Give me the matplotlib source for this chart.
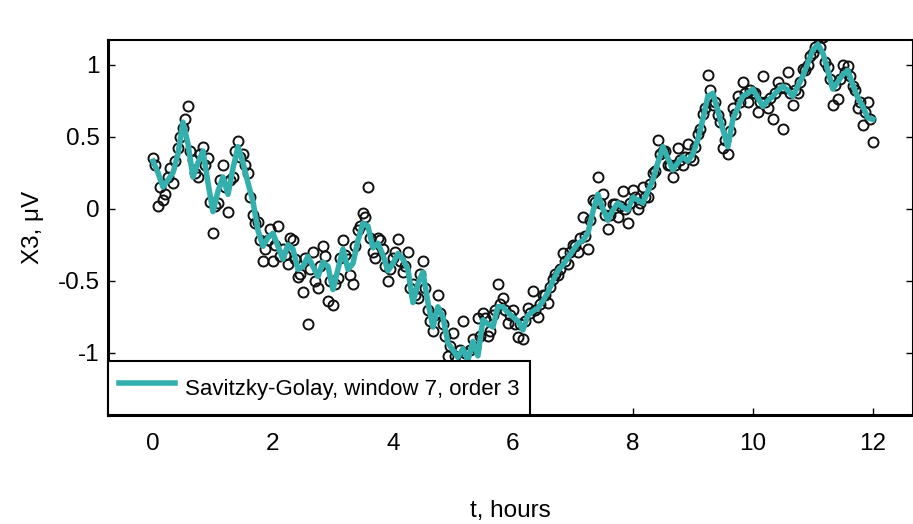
import numpy as np
import matplotlib
matplotlib.use("Agg")
import matplotlib.pyplot as plt

plt.rcParams['font.family'] = ['Liberation Sans', 'DejaVu Sans']
plt.rcParams['axes.unicode_minus'] = False

# sampling grid: 2.5-minute steps over 12 hours (two interleaved sets)
t_step_hours = 1.0 / 12.0
n_samples = 145
t = np.arange(n_samples) * t_step_hours
t_mid = (np.arange(n_samples - 1) + 0.5) * t_step_hours

raw_values = [
    0.35, 0.02, 0.06, 0.22, 0.18, 0.42, 0.56, 0.71, 0.34, 0.22,
    0.43, 0.35, -0.17, 0.04, 0.30, -0.02, 0.22, 0.47, 0.38, 0.25,
    -0.04, -0.09, -0.36, -0.22, -0.36, -0.12, -0.28, -0.38, -0.22, -0.47,
    -0.58, -0.80, -0.30, -0.55, -0.26, -0.64, -0.67, -0.48, -0.22, -0.35,
    -0.52, -0.15, -0.03, 0.15, -0.30, -0.20, -0.28, -0.50, -0.34, -0.21,
    -0.44, -0.30, -0.52, -0.62, -0.36, -0.70, -0.85, -0.60, -0.80, -1.02,
    -0.86, -1.08, -0.78, -1.12, -0.90, -0.76, -0.72, -0.88, -0.74, -0.52,
    -0.62, -0.79, -0.70, -0.89, -0.90, -0.69, -0.57, -0.75, -0.60, -0.65,
    -0.49, -0.46, -0.31, -0.38, -0.25, -0.30, -0.06, -0.28, 0.06, 0.22,
    0.10, -0.14, 0.03, -0.06, 0.12, -0.10, 0.13, 0.00, 0.15, 0.08,
    0.25, 0.48, 0.40, 0.30, 0.22, 0.42, 0.30, 0.45, 0.34, 0.52,
    0.66, 0.93, 0.72, 0.65, 0.42, 0.38, 0.70, 0.78, 0.88, 0.74,
    0.80, 0.67, 0.92, 0.70, 0.62, 0.88, 0.55, 0.95, 0.72, 0.80,
    0.97, 1.00, 1.08, 1.19, 1.19, 0.98, 0.72, 0.76, 1.00, 0.99,
    0.85, 0.70, 0.58, 0.74, 0.46,
]

raw_values_mid = [
    0.30, 0.15, 0.10, 0.28, 0.33, 0.50, 0.62, 0.40, 0.25, 0.38,
    0.30, 0.05, 0.02, 0.20, 0.15, 0.20, 0.40, 0.36, 0.30, 0.08,
    -0.10, -0.22, -0.28, -0.14, -0.25, -0.33, -0.32, -0.20, -0.35, -0.45,
    -0.34, -0.42, -0.50, -0.40, -0.33, -0.50, -0.52, -0.34, -0.32, -0.46,
    -0.26, -0.12, -0.06, -0.20, -0.34, -0.22, -0.40, -0.42, -0.30, -0.36,
    -0.40, -0.55, -0.60, -0.45, -0.55, -0.78, -0.74, -0.72, -0.88, -0.95,
    -1.02, -0.98, -1.00, -0.98, -0.96, -0.88, -0.76, -0.85, -0.70, -0.66,
    -0.70, -0.74, -0.80, -0.80, -0.78, -0.72, -0.70, -0.66, -0.60, -0.54,
    -0.45, -0.42, -0.36, -0.30, -0.26, -0.20, -0.19, -0.08, 0.05, 0.04,
    -0.04, -0.04, 0.03, 0.02, 0.00, 0.04, 0.08, 0.04, 0.08, 0.17,
    0.26, 0.38, 0.40, 0.30, 0.30, 0.34, 0.36, 0.36, 0.43, 0.55,
    0.70, 0.82, 0.74, 0.60, 0.48, 0.54, 0.66, 0.74, 0.80, 0.82,
    0.80, 0.74, 0.74, 0.77, 0.80, 0.84, 0.84, 0.80, 0.82, 0.88,
    0.96, 1.06, 1.12, 1.12, 1.02, 0.90, 0.86, 0.90, 0.95, 0.92,
    0.82, 0.74, 0.67, 0.62,
]

smoothed_values = [
    0.33, 0.25, 0.15, 0.20, 0.25, 0.38, 0.60, 0.45, 0.22, 0.32,
    0.40, 0.18, -0.02, 0.12, 0.22, 0.10, 0.28, 0.43, 0.32, 0.18,
    0.05, -0.15, -0.26, -0.20, -0.17, -0.26, -0.35, -0.25, -0.28, -0.42,
    -0.40, -0.33, -0.40, -0.47, -0.37, -0.40, -0.56, -0.42, -0.28, -0.42,
    -0.38, -0.22, -0.10, -0.12, -0.27, -0.24, -0.32, -0.43, -0.38, -0.31,
    -0.35, -0.42, -0.65, -0.52, -0.44, -0.65, -0.82, -0.68, -0.75, -0.93,
    -0.98, -1.03, -0.97, -1.05, -0.92, -1.02, -0.77, -0.80, -0.82, -0.68,
    -0.68, -0.72, -0.75, -0.78, -0.84, -0.74, -0.71, -0.69, -0.64, -0.58,
    -0.50, -0.43, -0.39, -0.34, -0.29, -0.24, -0.22, -0.17, -0.02, 0.10,
    0.00, -0.08, -0.01, 0.04, 0.01, -0.01, 0.08, 0.06, 0.04, 0.12,
    0.20, 0.32, 0.43, 0.35, 0.27, 0.32, 0.36, 0.33, 0.38, 0.48,
    0.62, 0.78, 0.80, 0.68, 0.55, 0.43, 0.62, 0.70, 0.78, 0.80,
    0.83, 0.77, 0.71, 0.75, 0.78, 0.82, 0.85, 0.82, 0.78, 0.85,
    0.92, 1.01, 1.10, 1.14, 1.08, 0.96, 0.83, 0.88, 0.93, 0.96,
    0.86, 0.77, 0.71, 0.63, 0.62,
]

x_ticks = [0, 2, 4, 6, 8, 10, 12]
y_ticks = [-1, -0.5, 0, 0.5, 1]
y_tick_labels = ['-1', '-0.5', '0', '0.5', '1']
legend_label = 'Savitzky-Golay, window 7, order 3'

fig = plt.figure(figsize=(9.13, 5.24), dpi=100)
ax = fig.add_axes([108 / 913, 109 / 524, 805 / 913, 375 / 524])

marker_style = dict(linestyle='none', marker='o', markersize=7.2,
                    markerfacecolor='none', markeredgecolor='#111111',
                    markeredgewidth=1.4, zorder=2)
ax.plot(t, raw_values, **marker_style)
ax.plot(t_mid, raw_values_mid, **marker_style)
ax.plot(t, smoothed_values, color='#33b0ae', linewidth=4.0, zorder=3,
        label=legend_label)

ax.set_xlim(-0.75, 12.67)
ax.set_ylim(-1.43, 1.17)
ax.set_xticks(x_ticks)
ax.set_yticks(y_ticks)
ax.set_yticklabels(y_tick_labels)
ax.tick_params(direction='in', length=5, width=1, labelsize=17.5,
               right=True, top=False)
ax.tick_params(axis='x', pad=13)
ax.tick_params(axis='y', pad=6)

for side in ['left', 'bottom']:
    ax.spines[side].set_linewidth(2.2)
for side in ['top', 'right']:
    ax.spines[side].set_linewidth(1.5)

ax.set_xlabel('t, hours', fontsize=17.5, labelpad=32)
ax.set_ylabel('X3, μV', fontsize=17.5, labelpad=10)

leg = ax.legend(loc='lower left', borderaxespad=0, fancybox=False,
                edgecolor='black', fontsize=16, handlelength=2.5,
                handletextpad=0.45, handleheight=1.85, borderpad=0.5,
                framealpha=1)
leg.get_frame().set_linewidth(1.5)

fig.savefig('out.png', dpi=100)
